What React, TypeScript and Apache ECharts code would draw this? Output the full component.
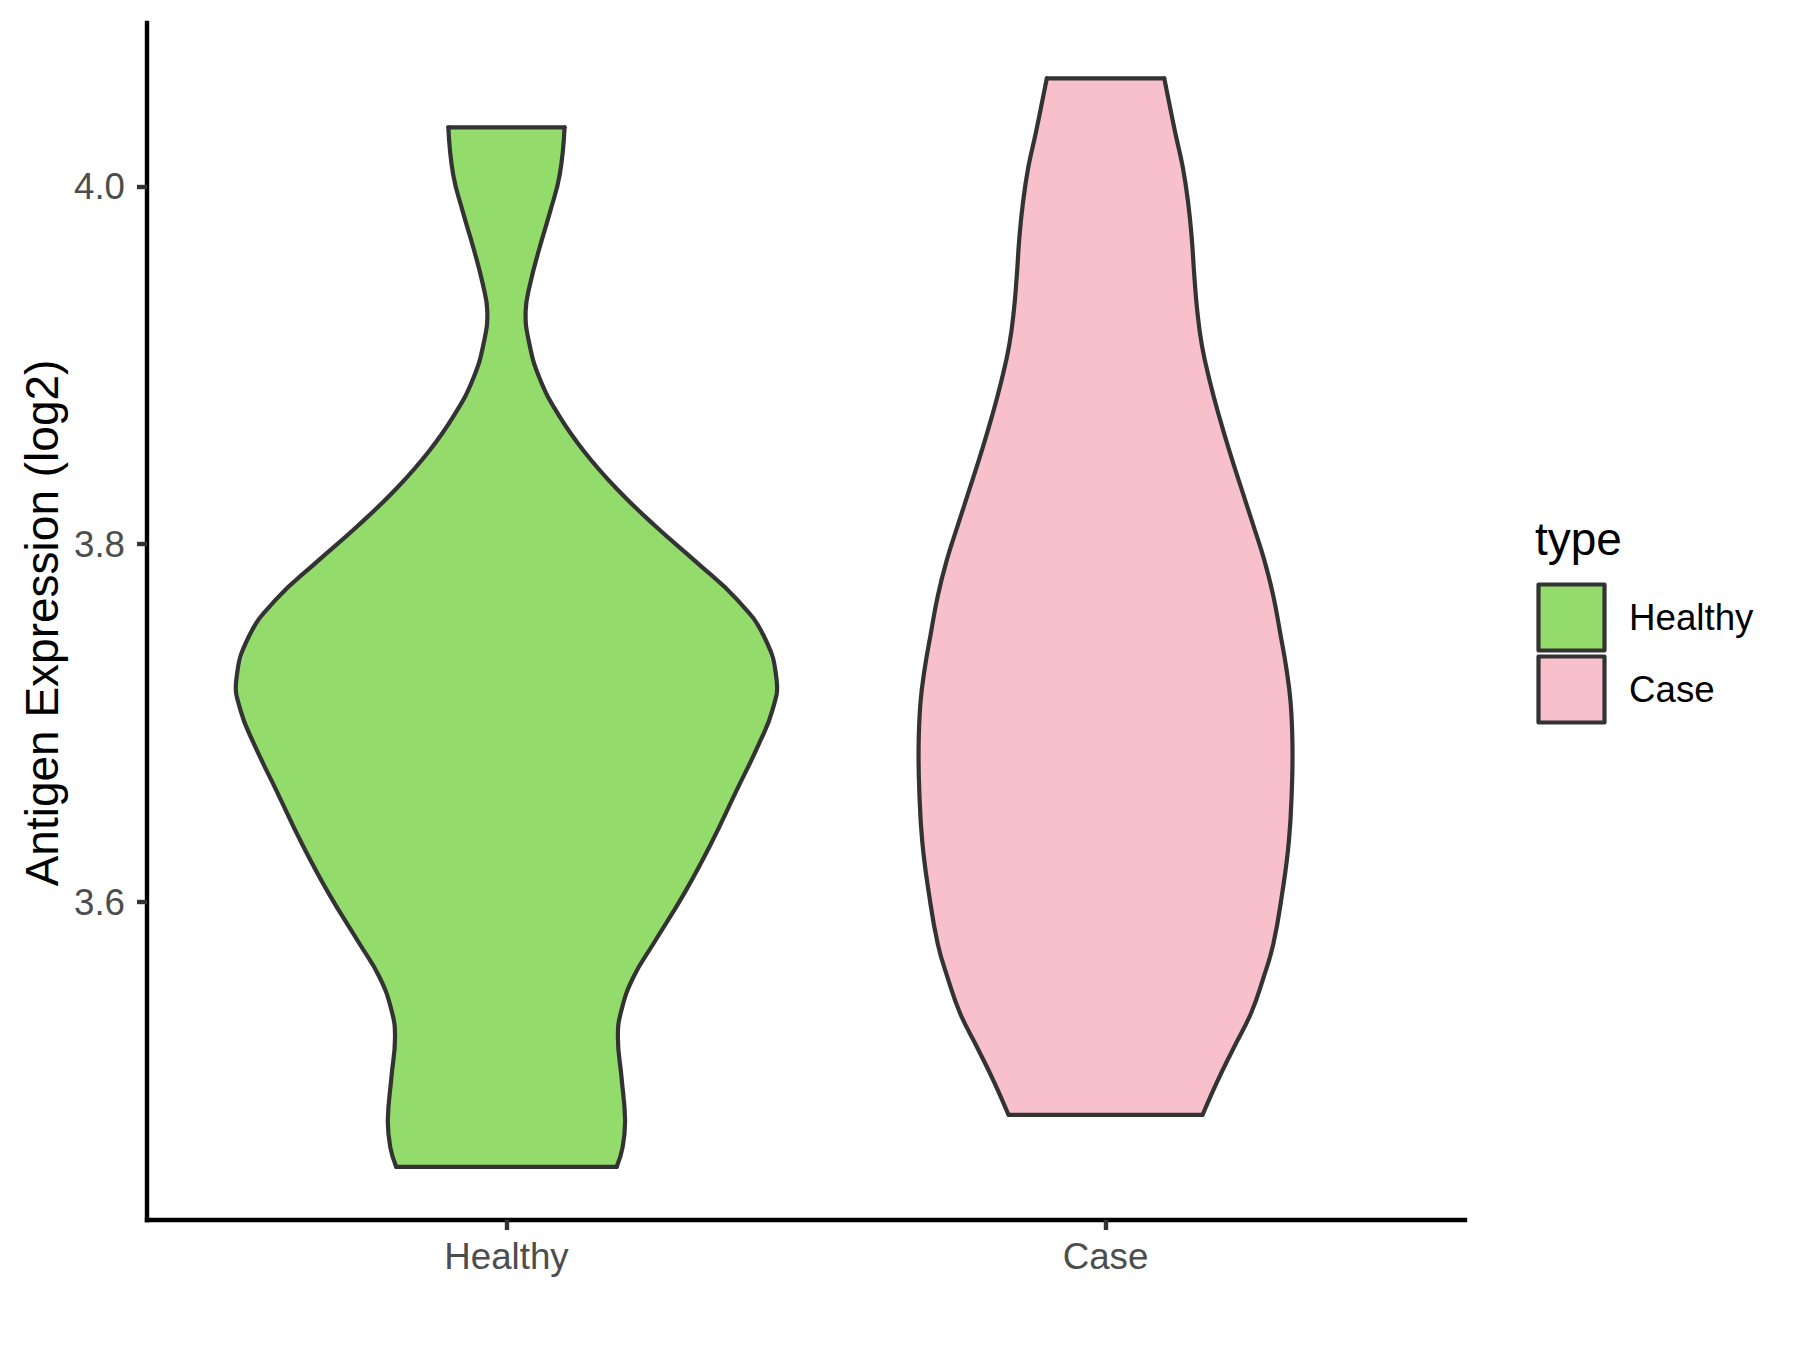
import React, { useEffect, useRef } from "react";
import * as echarts from "echarts";

const categories = ["Healthy", "Case"];
const fillColors = ["#93DB6B", "#F7C0CB"];
const yTicks = [3.6, 3.8, 4.0];
const yMin = 3.4223;
const yMax = 4.0913;
const legendTitle = "type";
const yTitle = "Antigen Expression (log2)";

// violin outlines: value (y) and half-width in category units
const healthyY = [4.033, 4.0067, 3.986, 3.9654, 3.9447, 3.9302, 3.914, 3.893, 3.8723, 3.8517, 3.831, 3.8103, 3.7897, 3.769, 3.7484, 3.724, 3.7073, 3.6888, 3.6609, 3.633, 3.605, 3.5771, 3.5581, 3.5397, 3.5246, 3.5022, 3.4782, 3.4631, 3.452];
const healthyHalfWidth = [0.097, 0.089, 0.073, 0.055, 0.039, 0.032, 0.037, 0.055, 0.087, 0.13, 0.184, 0.248, 0.318, 0.385, 0.43, 0.451, 0.444, 0.422, 0.382, 0.342, 0.297, 0.246, 0.212, 0.192, 0.186, 0.192, 0.198, 0.194, 0.184];
const caseY = [4.0604, 4.0305, 4.0106, 3.9905, 3.9706, 3.9508, 3.9307, 3.9108, 3.8911, 3.871, 3.8508, 3.8309, 3.8112, 3.7911, 3.7711, 3.7495, 3.7302, 3.7112, 3.6879, 3.6631, 3.634, 3.6052, 3.5765, 3.5571, 3.538, 3.5186, 3.4994, 3.4811];
const caseHalfWidth = [0.098, 0.116, 0.129, 0.138, 0.144, 0.148, 0.153, 0.161, 0.174, 0.19, 0.208, 0.227, 0.246, 0.265, 0.28, 0.292, 0.302, 0.309, 0.312, 0.311, 0.306, 0.295, 0.28, 0.263, 0.243, 0.214, 0.186, 0.162];

const profiles = [
  { y: healthyY, hw: healthyHalfWidth },
  { y: caseY, hw: caseHalfWidth },
];

const FONT = "'Liberation Sans', Arial, sans-serif";
const OUTLINE = "#333333";
const LW = 4.2;

export default function App() {
  const ref = useRef<HTMLDivElement>(null);
  useEffect(() => {
    document.body.style.margin = "0";
    const chart = echarts.init(ref.current!, null, { renderer: "svg" });
    const option: any = {
      animation: false,
      backgroundColor: "#FFFFFF",
      grid: { left: 147, right: 335, top: 23, bottom: 130, containLabel: false },
      xAxis: {
        type: "value",
        min: -0.6,
        max: 1.6,
        splitLine: { show: false },
        axisLine: { show: true, onZero: false, lineStyle: { color: "#000000", width: 4.4, cap: "square" } },
        axisTick: { show: true, customValues: [0, 1], length: 10, lineStyle: { color: OUTLINE, width: 4.4 } },
        axisLabel: {
          customValues: [0, 1],
          formatter: (v: number) => categories[Math.round(v)],
          color: "#4D4D4D",
          fontSize: 36.7,
          fontFamily: FONT,
          margin: 18,
        },
      },
      yAxis: {
        type: "value",
        min: yMin,
        max: yMax,
        splitLine: { show: false },
        axisLine: { show: true, onZero: false, lineStyle: { color: "#000000", width: 4.4, cap: "square" } },
        axisTick: { show: true, customValues: yTicks, length: 10, lineStyle: { color: OUTLINE, width: 4.4 } },
        axisLabel: {
          customValues: yTicks,
          formatter: (v: number) => v.toFixed(1),
          color: "#4D4D4D",
          fontSize: 36.7,
          fontFamily: FONT,
          margin: 22,
        },
      },
      series: [
        {
          type: "custom",
          data: categories.map((c, i) => [i, profiles[i].y[0]]),
          encode: { x: 0, y: 1 },
          clip: false,
          renderItem: (params: any, api: any) => {
            const idx = api.value(0);
            const prof = profiles[idx];
            const left: number[][] = [];
            const right: number[][] = [];
            for (let k = 0; k < prof.y.length; k++) {
              left.push(api.coord([idx - prof.hw[k], prof.y[k]]));
              right.push(api.coord([idx + prof.hw[k], prof.y[k]]));
            }
            const poly = left.concat(right.slice().reverse());
            const n = left.length - 1;
            const lineStyle = { stroke: OUTLINE, lineWidth: LW, fill: null, lineJoin: "round", lineCap: "round" };
            return {
              type: "group",
              children: [
                { type: "polygon", shape: { points: poly, smooth: 0 }, style: { fill: fillColors[idx], stroke: null } },
                { type: "polyline", shape: { points: left, smooth: 0.45 }, style: lineStyle },
                { type: "polyline", shape: { points: right, smooth: 0.45 }, style: lineStyle },
                { type: "polyline", shape: { points: [left[0], right[0]] }, style: lineStyle },
                { type: "polyline", shape: { points: [left[n], right[n]] }, style: lineStyle },
              ],
            };
          },
        },
      ],
      graphic: [
        {
          type: "text",
          x: 42,
          y: 623,
          rotation: Math.PI / 2,
          style: { text: yTitle, fill: "#000000", fontSize: 46, fontFamily: FONT, align: "center", verticalAlign: "middle" },
        },
        {
          type: "text",
          x: 1535,
          y: 539,
          style: { text: legendTitle, fill: "#000000", fontSize: 46, fontFamily: FONT, align: "left", verticalAlign: "middle" },
        },
        ...categories.flatMap((c, i) => [
          {
            type: "rect",
            shape: { x: 1538.5, y: 584.5 + i * 72, width: 66, height: 66 },
            style: { fill: fillColors[i], stroke: OUTLINE, lineWidth: LW, lineJoin: "round" },
          },
          {
            type: "text",
            x: 1629,
            y: 617.5 + i * 72,
            style: { text: c, fill: "#000000", fontSize: 36.7, fontFamily: FONT, align: "left", verticalAlign: "middle" },
          },
        ]),
      ],
    };
    chart.setOption(option);
    return () => chart.dispose();
  }, []);
  return <div ref={ref} style={{ width: 1800, height: 1350, position: "absolute", left: 0, top: 0 }} />;
}
